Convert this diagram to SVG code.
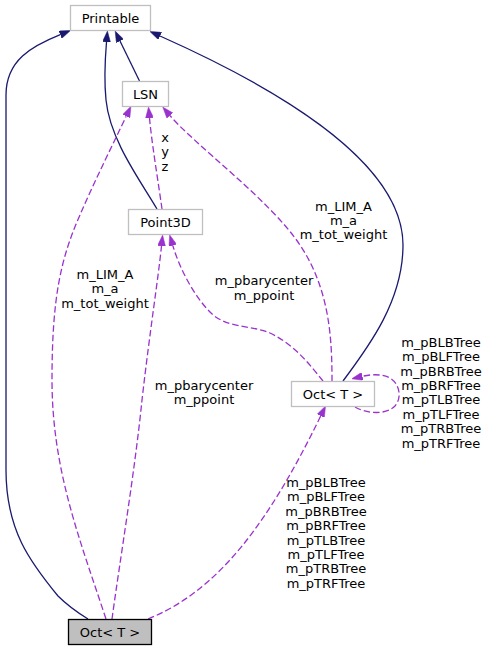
<svg xmlns="http://www.w3.org/2000/svg" width="489" height="651" viewBox="0 0 489 651">
<defs>
<style>
.node rect{fill:#ffffff;stroke:#bfbfbf;stroke-width:1.3}
.node.cur rect{fill:#bfbfbf;stroke:#000000}
text{font-family:"DejaVu Sans","Liberation Sans",sans-serif;font-size:13px;fill:#000000;text-anchor:middle}
.inh{fill:none;stroke:#191970;stroke-width:1.3}
.use{fill:none;stroke:#9a32cd;stroke-width:1.3;stroke-dasharray:6.5,3}
</style>
<marker id="aN" viewBox="0 0 11 8" refX="0" refY="4" markerWidth="11" markerHeight="8" markerUnits="userSpaceOnUse" orient="auto">
<path d="M0,0 L11,4 L0,8 z" fill="#191970" stroke="#191970" stroke-width="0.5"/>
</marker>
<marker id="aP" viewBox="0 0 11 8" refX="0" refY="4" markerWidth="11" markerHeight="8" markerUnits="userSpaceOnUse" orient="auto">
<path d="M0,0 L11,4 L0,8 z" fill="#9a32cd" stroke="#9a32cd" stroke-width="0.5"/>
</marker>
</defs>
<rect width="489" height="651" fill="#ffffff"/>
<g id="connectors">
<path class="inh" marker-end="url(#aN)" d="M88,619 C75,611 66,604 58,596 C30,562 6,530 6,470 L6,95 C6,60 32,46 60.3,34.6"/>
<path class="inh" marker-end="url(#aN)" d="M157,209 C140,180 110,140 106,100 C104,80 105,60 106.5,42"/>
<path class="inh" marker-end="url(#aN)" d="M139.5,81 L120,41"/>
<path class="inh" marker-end="url(#aN)" d="M343,381 C370,345 403,300 403,245 C403,160 270,85 160,36"/>
<path class="use" marker-end="url(#aP)" d="M106,619 C80,540 52,470 52,380 C52,300 60,260 80,215 C95,180 115,140 126.2,116.3"/>
<path class="use" marker-end="url(#aP)" d="M162,209 C158,180 152,145 149.5,118"/>
<path class="use" marker-end="url(#aP)" d="M332,381 C332,340 330,290 300,245 C270,200 195,145 169.9,115.5"/>
<path class="use" marker-end="url(#aP)" d="M323,381 C310,365 295,345 270,333 C250,325 225,328 210,312 C195,297 180,270 172.8,245.5"/>
<path class="use" marker-end="url(#aP)" d="M112,619 C120,560 135,470 142,400 C150,330 158,280 161.5,246"/>
<path class="use" marker-end="url(#aP)" d="M355,407 C365,413 385,416 395,406 C402,398 400,384 390,378 C382,374 372,374 362.4,376.3"/>
<path class="use" marker-end="url(#aP)" d="M148,619 C220,590 270,520 320.7,416"/>
<text x="165" y="142">x</text>
<text x="165" y="156.4">y</text>
<text x="165" y="170.8">z</text>
<text x="105" y="278.7">m_LIM_A</text>
<text x="105" y="293.1">m_a</text>
<text x="105" y="307.5">m_tot_weight</text>
<text x="343.5" y="210.5">m_LIM_A</text>
<text x="343.5" y="224.9">m_a</text>
<text x="343.5" y="239.3">m_tot_weight</text>
<text x="264" y="285.2">m_pbarycenter</text>
<text x="264" y="299.6">m_ppoint</text>
<text x="204" y="390">m_pbarycenter</text>
<text x="204" y="404.4">m_ppoint</text>
<text x="441" y="346.8">m_pBLBTree</text>
<text x="441" y="361.2">m_pBLFTree</text>
<text x="441" y="375.6">m_pBRBTree</text>
<text x="441" y="390">m_pBRFTree</text>
<text x="441" y="404.4">m_pTLBTree</text>
<text x="441" y="418.8">m_pTLFTree</text>
<text x="441" y="433.2">m_pTRBTree</text>
<text x="441" y="447.6">m_pTRFTree</text>
<text x="326" y="487">m_pBLBTree</text>
<text x="326" y="501.4">m_pBLFTree</text>
<text x="326" y="515.8">m_pBRBTree</text>
<text x="326" y="530.2">m_pBRFTree</text>
<text x="326" y="544.6">m_pTLBTree</text>
<text x="326" y="559">m_pTLFTree</text>
<text x="326" y="573.4">m_pTRBTree</text>
<text x="326" y="587.8">m_pTRFTree</text>
</g>
<g id="node-printable" class="node">
<rect x="70.5" y="5.5" width="80" height="25"/>
<text x="110.5" y="22.7">Printable</text>
</g>
<g id="node-lsn" class="node">
<rect x="122.5" y="81.5" width="46" height="25"/>
<text x="145.5" y="98.7">LSN</text>
</g>
<g id="node-point3d" class="node">
<rect x="128.5" y="209.5" width="74" height="25"/>
<text x="165.5" y="226.7">Point3D</text>
</g>
<g id="node-oct-mid" class="node">
<rect x="291.5" y="381.5" width="83" height="25"/>
<text x="333" y="398.7">Oct&lt; T &gt;</text>
</g>
<g id="node-oct-cur" class="node cur">
<rect x="68.5" y="619.5" width="83" height="25"/>
<text x="110" y="636.7">Oct&lt; T &gt;</text>
</g>
</svg>
